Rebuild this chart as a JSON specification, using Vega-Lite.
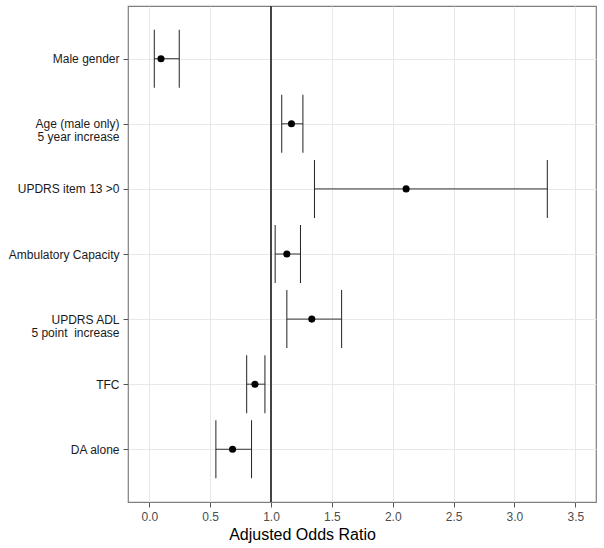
{
  "$schema": "https://vega.github.io/schema/vega-lite/v6.json",
  "width": 468,
  "height": 496,
  "autosize": {"type": "none"},
  "padding": {"left": 128, "top": 6, "right": 8, "bottom": 46},
  "background": "white",
  "config": {
    "font": "Liberation Sans",
    "view": {"stroke": "#7f7f7f", "strokeWidth": 1.2}
  },
  "data": {
    "values": [
      {"label": "Male gender", "or": 0.096, "lower": 0.041, "upper": 0.246},
      {"label": "Age (male only)|5 year increase", "or": 1.168, "lower": 1.088, "upper": 1.262},
      {"label": "UPDRS item 13 >0", "or": 2.11, "lower": 1.357, "upper": 3.27},
      {"label": "Ambulatory Capacity", "or": 1.13, "lower": 1.034, "upper": 1.242},
      {"label": "UPDRS ADL|5 point\u00a0 increase", "or": 1.335, "lower": 1.13, "upper": 1.58},
      {"label": "TFC", "or": 0.868, "lower": 0.8, "upper": 0.95},
      {"label": "DA alone", "or": 0.684, "lower": 0.547, "upper": 0.84}
    ]
  },
  "layer": [
    {
      "mark": {"type": "rule", "color": "#333333", "strokeWidth": 1},
      "encoding": {
        "x": {
          "field": "lower",
          "type": "quantitative",
          "scale": {"domain": [-0.175, 3.67], "nice": false, "zero": false},
          "axis": {
            "values": [0, 0.25, 0.5, 0.75, 1, 1.25, 1.5, 1.75, 2, 2.25, 2.5, 2.75, 3, 3.25, 3.5],
            "labelExpr": "datum.value % 0.5 == 0 ? format(datum.value, '.1f') : ''",
            "grid": true,
            "gridColor": "#e8e8e8",
            "gridWidth": {"condition": {"test": "datum.value % 0.5 == 0", "value": 1}, "value": 0.6},
            "tickOpacity": {"condition": {"test": "datum.value % 0.5 != 0", "value": 0}, "value": 1},
            "domain": false,
            "ticks": true,
            "tickSize": 5,
            "tickColor": "#555555",
            "labelColor": "#4d4d4d",
            "labelFontSize": 12,
            "labelPadding": 4,
            "title": "Adjusted Odds Ratio",
            "titleFontSize": 16,
            "titleFontWeight": "normal",
            "titleColor": "#000000",
            "titleX": 174,
            "titleY": 37,
            "titleBaseline": "alphabetic",
            "titleAnchor": "middle",
            "titleAlign": "center"
          }
        },
        "x2": {"field": "upper"},
        "y": {
          "field": "label",
          "type": "nominal",
          "sort": null,
          "scale": {"type": "point", "padding": 0.81},
          "axis": {
            "title": null,
            "labelExpr": "split(datum.label, '|')",
            "labelLineHeight": 13,
            "labelFontSize": 12,
            "labelColor": "#1a1a1a",
            "labelPadding": 4,
            "domain": false,
            "ticks": true,
            "tickSize": 5,
            "tickColor": "#555555",
            "grid": true,
            "gridColor": "#e8e8e8",
            "gridWidth": 1
          }
        }
      }
    },
    {
      "mark": {"type": "rule", "color": "#444444", "strokeWidth": 1.2},
      "encoding": {"x": {"datum": 1, "type": "quantitative"}}
    },
    {
      "mark": {"type": "tick", "color": "#222222", "size": 58, "thickness": 1, "opacity": 1},
      "encoding": {
        "x": {"field": "lower", "type": "quantitative"},
        "y": {"field": "label", "type": "nominal", "sort": null}
      }
    },
    {
      "mark": {"type": "tick", "color": "#222222", "size": 58, "thickness": 1, "opacity": 1},
      "encoding": {
        "x": {"field": "upper", "type": "quantitative"},
        "y": {"field": "label", "type": "nominal", "sort": null}
      }
    },
    {
      "mark": {"type": "point", "filled": true, "color": "#000000", "size": 50, "opacity": 1},
      "encoding": {
        "x": {"field": "or", "type": "quantitative"},
        "y": {"field": "label", "type": "nominal", "sort": null}
      }
    }
  ]
}
